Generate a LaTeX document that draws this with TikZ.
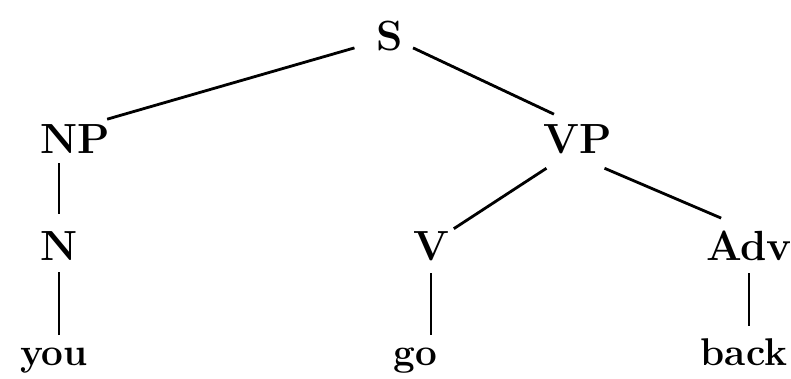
\documentclass[tikz,border=0pt]{standalone}
\usepackage{tikz}
\usetikzlibrary{positioning, calc}

\begin{document}
\begin{tikzpicture}[
  cat/.style={
    font=\fontsize{24}{28}\selectfont\bfseries,
    anchor=base, inner sep=4pt
  },
  mot/.style={
    font=\fontsize{22}{26}\selectfont\bfseries,
    anchor=base, inner sep=4pt
  },
  branche/.style={
    draw=black, line width=1.6pt
  }
]
\useasboundingbox (0, 0) rectangle (15.82, -7.56);

% ----- Racine -----
\node[cat] (s) at (7.8, -1.0) {S};

% ----- Syntagmes -----
\node[cat] (np) at (1.5, -3.06) {NP};
\node[cat] (vp) at (11.56, -3.06) {VP};

% ----- Catégories -----
\node[cat] (n) at (1.18, -5.2) {N};
\node[cat] (v) at (8.62, -5.2) {V};
\node[cat] (adv) at (14.98, -5.2) {Adv};

% ----- Mots -----
\node[mot] (you) at (1.08, -7.3) {you};
\node[mot] (go) at (8.3, -7.3) {go};
\node[mot] (back) at (14.88, -7.3) {back};

\draw[branche] ($(s.south west)+(-0.3,0.2)$) -- ($(np.north east)+(-0.2,-0.05)$);
\draw[branche] ($(s.south east)+(0.05,0.2)$) -- ($(vp.north west)+(0.35,0.05)$);
\draw[branche] ($(vp.south west)+(0.2,-0.15)$) -- ($(v.north east)+(-0.05,-0.1)$);
\draw[branche] ($(vp.south east)+(-0.3,-0.15)$) -- ($(adv.north west)+(0.45,0.1)$);
\draw[branche] ($(n.north)+(0,0.2)$) -- ($(n.north |- np.south)+(0,-0.05)$);
\draw[branche] ($(you.north -| n)+(0,0.1)$) -- ($(n.south)+(0,-0.1)$);
\draw[branche] ($(go.north -| v)+(0,0.1)$) -- ($(v.south)+(0,-0.1)$);
\draw[branche] ($(back.north -| adv)+(0,0.1)$) -- ($(adv.south)+(0,-0.1)$);

\end{tikzpicture}
\end{document}
